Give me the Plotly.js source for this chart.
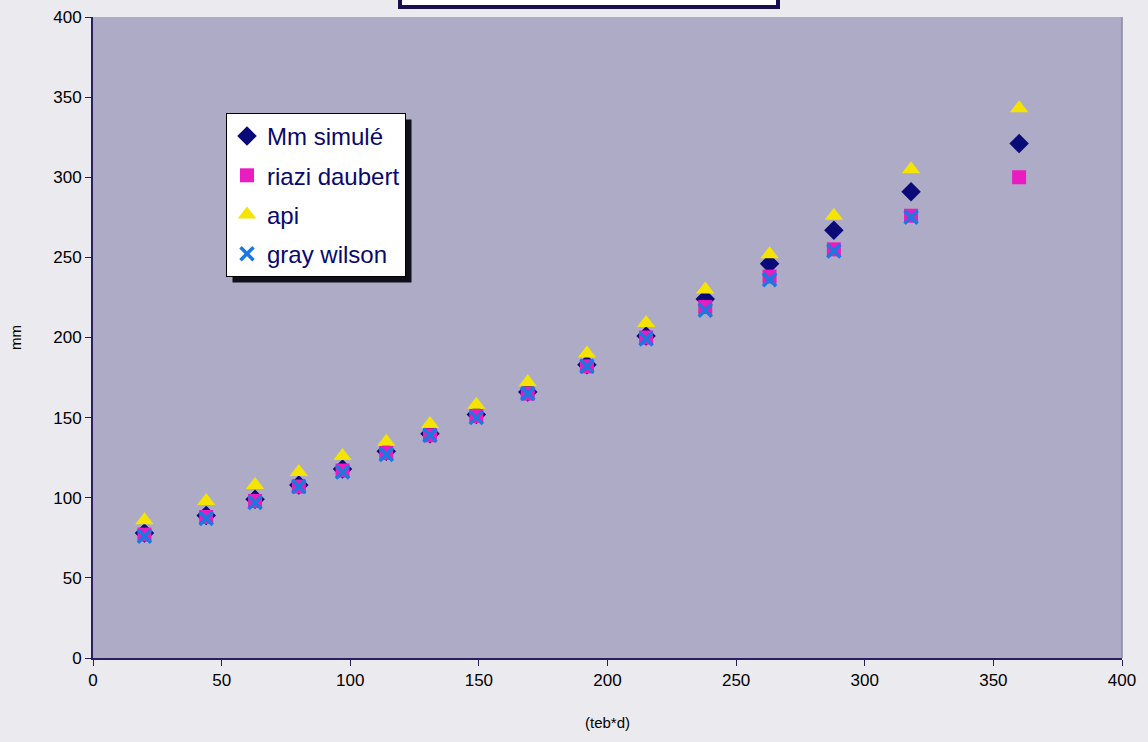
<!DOCTYPE html>
<html><head><meta charset="utf-8">
<script src="https://cdn.plot.ly/plotly-3.0.1.min.js"></script>
<style>html,body{margin:0;padding:0;background:#ebeaee;}#chart{width:1148px;height:742px;}</style>
</head><body><div id="chart"></div>
<script>
const xVals = [20, 44, 63, 80, 97, 114, 131, 149, 169, 192, 215, 238, 263, 288, 318, 360];
const mmSimule = [78, 89, 99, 108, 118, 129, 140, 152, 166, 183, 201, 224, 246, 267, 291, 321];
const riaziDaubert = [77, 88, 98, 107, 117, 128, 139, 151, 165, 182, 200, 219, 238, 255, 276, 300];
const api = [86, 98, 108, 116, 126, 135, 146, 158, 172, 190, 209, 230, 252, 276, 305, 343];
const grayWilsonX = [20, 44, 63, 80, 97, 114, 131, 149, 169, 192, 215, 238, 263, 288, 318];
const grayWilson = [76, 87, 97, 107, 116, 127, 139, 150, 165, 182, 199, 217, 236, 254, 275];

const traces = [
  {x: xVals, y: mmSimule, name: 'Mm simulé', legendgroup: 'a', mode: 'markers', type: 'scatter',
   marker: {symbol: 'diamond', size: 15, color: '#0a0a78'}},
  {x: xVals, y: riaziDaubert, name: 'riazi daubert', legendgroup: 'b', mode: 'markers', type: 'scatter',
   marker: {symbol: 'square', size: 14, color: '#e81cc0'}},
  {x: xVals, y: api, name: 'api', legendgroup: 'c', mode: 'markers', type: 'scatter',
   marker: {symbol: 'triangle-up', size: 16, color: '#f5e400'}},
  {x: grayWilsonX, y: grayWilson, name: 'gray wilson', legendgroup: 'd', mode: 'markers', type: 'scatter',
   marker: {symbol: 'x-thin', size: 13, color: '#1a78e0', line: {color: '#1a78e0', width: 3.5}}}
];

const W = 1148, H = 742, L = 93, R = 26, T = 17, B = 84;
const pw = W - L - R, ph = H - T - B;
const px = v => (v - L) / pw;
const py = v => (H - B - v) / ph;

const layout = {
  width: W, height: H,
  margin: {l: L, r: R, t: T, b: B},
  paper_bgcolor: '#ebeaee',
  plot_bgcolor: '#aeabc6',
  font: {family: 'Liberation Sans, Arial, sans-serif', color: '#000'},
  showlegend: true,
  legend: {x: px(226), y: py(113), xanchor: 'left', yanchor: 'top',
    bgcolor: '#ffffff', bordercolor: '#000', borderwidth: 1,
    font: {size: 24, color: '#08086e', family: 'Liberation Sans, Arial, sans-serif'},
    traceorder: 'grouped', tracegroupgap: 5, itemwidth: 30},
  xaxis: {range: [0, 400], dtick: 50, tick0: 0, showgrid: false, zeroline: false,
    showline: true, linecolor: '#2a1e60', linewidth: 2, ticks: 'outside', ticklen: 6,
    tickcolor: '#2a1e60', tickfont: {size: 17},
    title: {text: '(teb*d)', font: {size: 15}, standoff: 28}},
  yaxis: {range: [0, 400], dtick: 50, tick0: 0, showgrid: false, zeroline: false,
    showline: true, linecolor: '#2a1e60', linewidth: 2, ticks: 'outside', ticklen: 6,
    tickcolor: '#2a1e60', tickfont: {size: 17},
    title: {text: 'mm', font: {size: 15}, standoff: 28}},
  shapes: [
    {type: 'rect', xref: 'paper', yref: 'paper', x0: px(400), x1: px(778), y0: py(7), y1: py(-20),
     line: {color: '#1a0f50', width: 4}, fillcolor: '#ffffff', layer: 'above'},
    {type: 'rect', xref: 'paper', yref: 'paper', x0: px(1122), x1: px(1122), y0: 0, y1: 1,
     line: {color: '#8a88a0', width: 1}}
  ]
};

Plotly.newPlot('chart', traces, layout, {displayModeBar: false, staticPlot: true}).then(gd => {
  const bg = document.querySelector('.legend .bg');
  if (!bg) return;
  const r = bg.getBoundingClientRect();
  const c = document.getElementById('chart').getBoundingClientRect();
  const x0 = r.left - c.left + 6, x1 = r.right - c.left + 6;
  const yTop = r.top - c.top + 6, yBot = r.bottom - c.top + 6;
  const shapes = layout.shapes.concat([{type: 'rect', xref: 'paper', yref: 'paper',
    x0: px(x0), x1: px(x1), y0: py(yBot), y1: py(yTop),
    line: {width: 0}, fillcolor: '#101018', layer: 'above'}]);
  Plotly.relayout(gd, {shapes: shapes});
});
</script></body></html>
